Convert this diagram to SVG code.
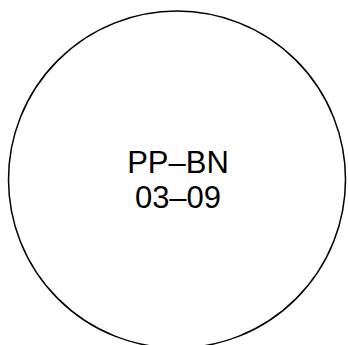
<svg xmlns="http://www.w3.org/2000/svg" width="348" height="345" viewBox="0 0 348 345">
<style>
.node{fill:#fff;stroke:#000;stroke-width:1.5}
.lbl{font-family:"Liberation Sans",Arial,sans-serif;font-size:31px;fill:#000;text-anchor:middle}
</style>
<rect width="348" height="345" fill="#fff"/>
<g id="connectors"></g>
<g id="node-ppbn">
<circle class="node" cx="177" cy="179.5" r="168.5"/>
<text class="lbl" x="178" y="173">PP–BN</text>
<text class="lbl" x="178" y="208">03–09</text>
</g>
</svg>
